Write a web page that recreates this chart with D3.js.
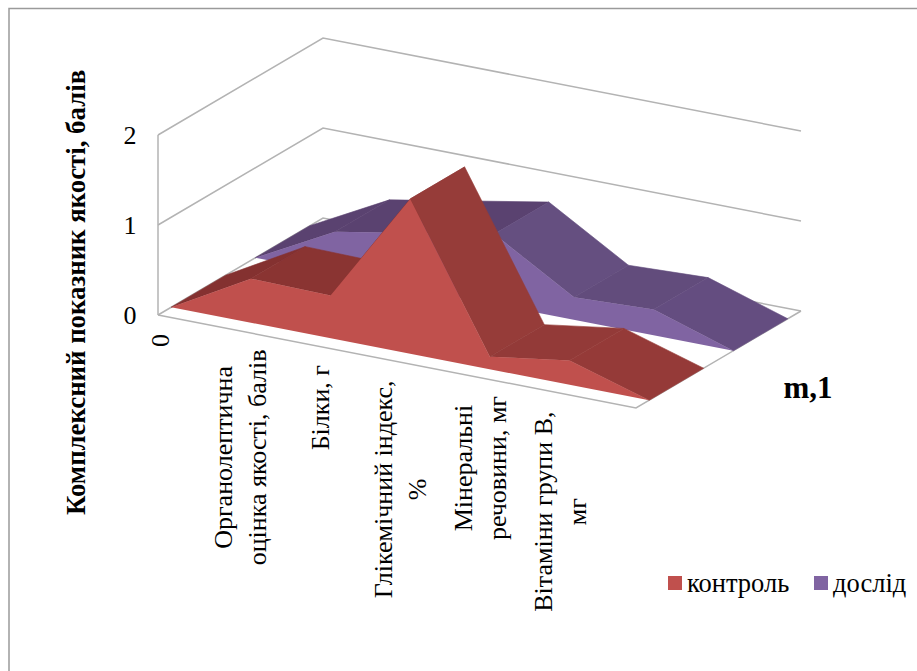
<!DOCTYPE html>
<html>
<head>
<meta charset="utf-8">
<script src="https://cdn.jsdelivr.net/npm/d3@7"></script>
<style>
  html, body { margin: 0; padding: 0; background: #fff; }
  svg { display: block; }
  text { font-family: "Liberation Serif", serif; fill: #000; }
</style>
</head>
<body>
<svg id="chart" width="917" height="671"></svg>
<script>
const categories = ["0", "Органолептична|оцінка якості, балів", "Білки, г", "Глікемічний індекс,|%", "Мінеральні|речовини, мг", "Вітаміни групи В,|мг", ""];
const controlValues = [0, 0.49, 0.475, 1.72, 0.14, 0.27, 0];
const dosledValues = [0, 0.46, 0.62, 0.78, 0.25, 0.285, 0];
const yTicks = [0, 1, 2];
const seriesNames = ["контроль", "дослід"];
const seriesDepth = [[0.08, 0.41], [0.59, 0.92]];

const svg = d3.select("#chart");

// chart frame, only left and top edges are inside the picture
const line = d3.line();
svg.append("path")
    .attr("d", line([[9, 671], [9, 8.5], [917, 8.5]]))
    .attr("fill", "none").attr("stroke", "#9a9a9a").attr("stroke-width", 1.5);

//------------------SCALES------------------
// oblique projection: category runs along the front edge, depth along the side, value goes up
const xScreen = d3.scalePoint().domain(d3.range(categories.length)).range([158, 636]);
const xDrop = d3.scalePoint().domain(d3.range(categories.length)).range([0, 93]);
const depthX = d3.scaleLinear().domain([0, 1]).range([0, 165]);
const depthY = d3.scaleLinear().domain([0, 1]).range([0, -97]);
const yScale = d3.scaleLinear().domain([0, 2]).range([315, 135]);

const project = (i, depth, value) => [
    xScreen(i) + depthX(depth),
    yScale(value) + xDrop(i) + depthY(depth)
];

const last = categories.length - 1;

//------------------WALLS------------------
const grid = svg.append("g")
    .attr("fill", "none")
    .attr("stroke", "#b3b3b3")
    .attr("stroke-width", 1.5);

yTicks.forEach(t => {
    grid.append("path").attr("d", line([project(0, 0, t), project(0, 1, t), project(last, 1, t)]));
});
grid.append("path").attr("d", line([project(0, 0, 0), project(0, 0, 2)]));
grid.append("path").attr("d", line([project(0, 0, 0), project(last, 0, 0), project(last, 1, 0)]));

//------------------SERIES------------------
const seriesColors = [
    { front: "#c0504d", tops: ["#843130", "#8a3432", "#8a3432", "#963c39", "#933a38", "#953a38"] },
    { front: "#8064a2", tops: ["#5a4270", "#5a4270", "#5a4270", "#654f80", "#624c7c", "#644d80"] }
];

function drawSeries(values, depth, colors) {
    const g = svg.append("g");
    // top strips, left to right
    d3.pairs(d3.range(values.length)).forEach(([a, b], k) => {
        g.append("path")
            .attr("fill", colors.tops[k])
            .attr("stroke", colors.tops[k])
            .attr("stroke-width", 0.6)
            .attr("d", line([
                project(a, depth[0], values[a]),
                project(a, depth[1], values[a]),
                project(b, depth[1], values[b]),
                project(b, depth[0], values[b])
            ]) + "Z");
    });
    // front face
    const outline = values.map((v, i) => project(i, depth[0], v));
    outline.push(project(last, depth[0], 0), project(0, depth[0], 0));
    g.append("path").attr("fill", colors.front).attr("d", line(outline) + "Z");
}

drawSeries(dosledValues, seriesDepth[1], seriesColors[1]);
drawSeries(controlValues, seriesDepth[0], seriesColors[0]);

//------------------LABELS------------------
const yLabels = svg.append("g").attr("font-size", 26).attr("text-anchor", "middle");
yTicks.forEach(t => {
    yLabels.append("text")
        .attr("x", 130)
        .attr("y", yScale(t) + 9)
        .text(t);
});

const labelX = d3.scalePoint().domain(d3.range(categories.length)).range([160, 640]);
const labelLine = 34;

categories.forEach((c, i) => {
    if (!c) return;
    const lines = c.split("|");
    const top = project(0, 0, 0)[1] + xDrop(i) + 19;
    const g = svg.append("g").attr("font-size", 26).attr("text-anchor", "middle");
    const texts = lines.map(l => g.append("text").text(l));
    const maxLen = d3.max(texts, t => t.node().getComputedTextLength());
    texts.forEach((t, k) => {
        const cx = labelX(i) + (k - (lines.length - 1) / 2) * labelLine;
        t.attr("transform", `translate(${cx + 9},${top + maxLen / 2}) rotate(-90)`);
    });
});

svg.append("text")
    .attr("transform", "translate(85,292.5) rotate(-90)")
    .attr("text-anchor", "middle")
    .attr("font-size", 26.8)
    .attr("font-weight", "bold")
    .text("Комплексний показник якості, балів");

svg.append("text")
    .attr("x", 808).attr("y", 398)
    .attr("text-anchor", "middle")
    .attr("font-size", 31)
    .attr("font-weight", "bold")
    .text("m,1");

//------------------LEGEND------------------
const legendX = d3.scalePoint().domain(seriesNames).range([668, 814]);
const legend = svg.append("g");
seriesNames.forEach((name, i) => {
    legend.append("rect")
        .attr("x", legendX(name)).attr("y", 576)
        .attr("width", 14).attr("height", 14)
        .attr("fill", seriesColors[i].front);
    legend.append("text")
        .attr("x", legendX(name) + 19).attr("y", 592)
        .attr("font-size", 26.5)
        .text(name);
});
</script>
</body>
</html>
